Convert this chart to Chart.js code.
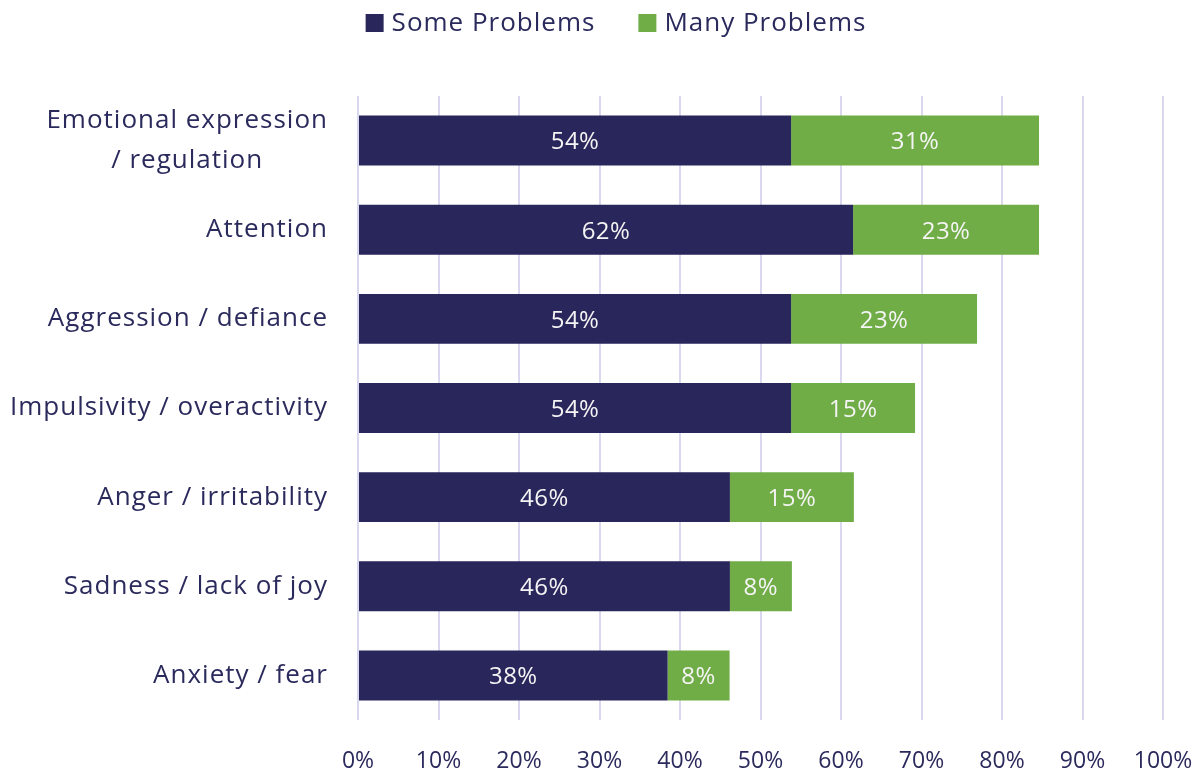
<!DOCTYPE html>
<html>
<head>
<meta charset="utf-8">
<script src="https://cdn.jsdelivr.net/npm/chart.js@4/dist/chart.umd.min.js"></script>
<style>
html,body{margin:0;padding:0;background:#fff;}
#wrap{width:1200px;height:775px;position:relative;}
</style>
</head>
<body>
<div id="wrap"><canvas id="c" width="1200" height="775"></canvas></div>
<script>
const categories = [
  ["Emotional expression", "/ regulation"],
  ["Attention"],
  ["Aggression / defiance"],
  ["Impulsivity / overactivity"],
  ["Anger / irritability"],
  ["Sadness / lack of joy"],
  ["Anxiety / fear"]
];
const someProblems = [53.8, 61.5, 53.8, 53.8, 46.2, 46.2, 38.46];
const manyProblems = [30.8, 23.1, 23.1, 15.4, 15.4, 7.7, 7.7];
const seriesNames = ["Some Problems", "Many Problems"];
const seriesColors = ["#29265b", "#70ad47"];
const xTicks = [0, 10, 20, 30, 40, 50, 60, 70, 80, 90, 100];

const FONT = "'Open Sans', 'Noto Sans', sans-serif";
const TEXT = "#2b2a5c";

const barLabels = {
  id: 'barLabels',
  afterDatasetsDraw(chart) {
    const ctx = chart.ctx;
    ctx.save();
    ctx.font = "24px " + FONT;
    ctx.letterSpacing = "0.5px";
    ctx.fillStyle = "#f4f4f4";
    ctx.textAlign = "center";
    ctx.textBaseline = "middle";
    chart.data.datasets.forEach((ds, di) => {
      const meta = chart.getDatasetMeta(di);
      meta.data.forEach((bar, i) => {
        const v = ds.data[i];
        const p = bar.getProps(['x', 'base', 'y'], true);
        ctx.fillText(Math.round(v) + "%", (p.x + p.base) / 2, p.y + 2);
      });
    });
    ctx.restore();
  }
};

const yLabels = {
  id: 'yLabels',
  afterDraw(chart) {
    const ctx = chart.ctx;
    const y = chart.scales.y;
    const right = chart.chartArea.left - 30;
    ctx.save();
    ctx.font = "26px " + FONT;
    ctx.letterSpacing = "1px";
    ctx.fillStyle = TEXT;
    ctx.textAlign = "center";
    ctx.textBaseline = "middle";
    categories.forEach((lines, i) => {
      const cy = y.getPixelForValue(i);
      const w = Math.max(...lines.map(l => ctx.measureText(l).width));
      const cx = right - w / 2;
      const lh = 40;
      const top = cy - (lines.length - 1) * lh / 2;
      lines.forEach((l, k) => ctx.fillText(l, cx, top + k * lh));
    });
    ctx.restore();
  }
};

const customLegend = {
  id: 'customLegend',
  afterDraw(chart) {
    const ctx = chart.ctx;
    ctx.save();
    ctx.font = "26px " + FONT;
    ctx.letterSpacing = "1px";
    ctx.textBaseline = "middle";
    ctx.textAlign = "left";
    const box = 18, gapBoxText = 8, gapItems = 43;
    const items = chart.data.datasets.map(ds => ({ text: ds.label, color: ds.backgroundColor, w: ctx.measureText(ds.label).width }));
    const total = items.reduce((s, it) => s + box + gapBoxText + it.w, 0) + gapItems * (items.length - 1);
    let x = 616 - total / 2;
    const cy = 23;
    items.forEach(it => {
      ctx.fillStyle = it.color;
      ctx.fillRect(x, cy - box / 2, box, box);
      x += box + gapBoxText;
      ctx.fillStyle = TEXT;
      ctx.fillText(it.text, x, cy + 1);
      x += it.w + gapItems;
    });
    ctx.restore();
  }
};

new Chart(document.getElementById('c'), {
  type: 'bar',
  data: {
    labels: categories.map(c => c.join(' ')),
    datasets: [
      { label: seriesNames[0], data: someProblems, backgroundColor: seriesColors[0], barPercentage: 0.56, categoryPercentage: 1 },
      { label: seriesNames[1], data: manyProblems, backgroundColor: seriesColors[1], barPercentage: 0.56, categoryPercentage: 1 }
    ]
  },
  options: {
    indexAxis: 'y',
    responsive: false,
    animation: false,
    devicePixelRatio: 1,
    layout: { padding: { left: 8, right: 37, top: 96, bottom: 0 } },
    plugins: {
      legend: { display: false },
      tooltip: { enabled: false }
    },
    scales: {
      x: {
        stacked: true,
        min: 0, max: 100,
        afterBuildTicks(scale) { scale.ticks = xTicks.map(v => ({ value: v })); },
        afterFit(scale) { scale.height = 55; scale.paddingLeft = 0; scale.paddingRight = 0; },
        grid: { color: '#d9d8ef', lineWidth: 2, drawTicks: false },
        border: { display: false },
        ticks: {
          padding: 28,
          color: TEXT,
          font: { family: FONT, size: 23 },
          callback: v => v + '%'
        }
      },
      y: {
        stacked: true,
        grid: { display: false },
        border: { display: false },
        ticks: { display: false },
        afterFit(scale) { scale.width = 350; }
      }
    }
  },
  plugins: [barLabels, yLabels, customLegend]
});
</script>
</body>
</html>
